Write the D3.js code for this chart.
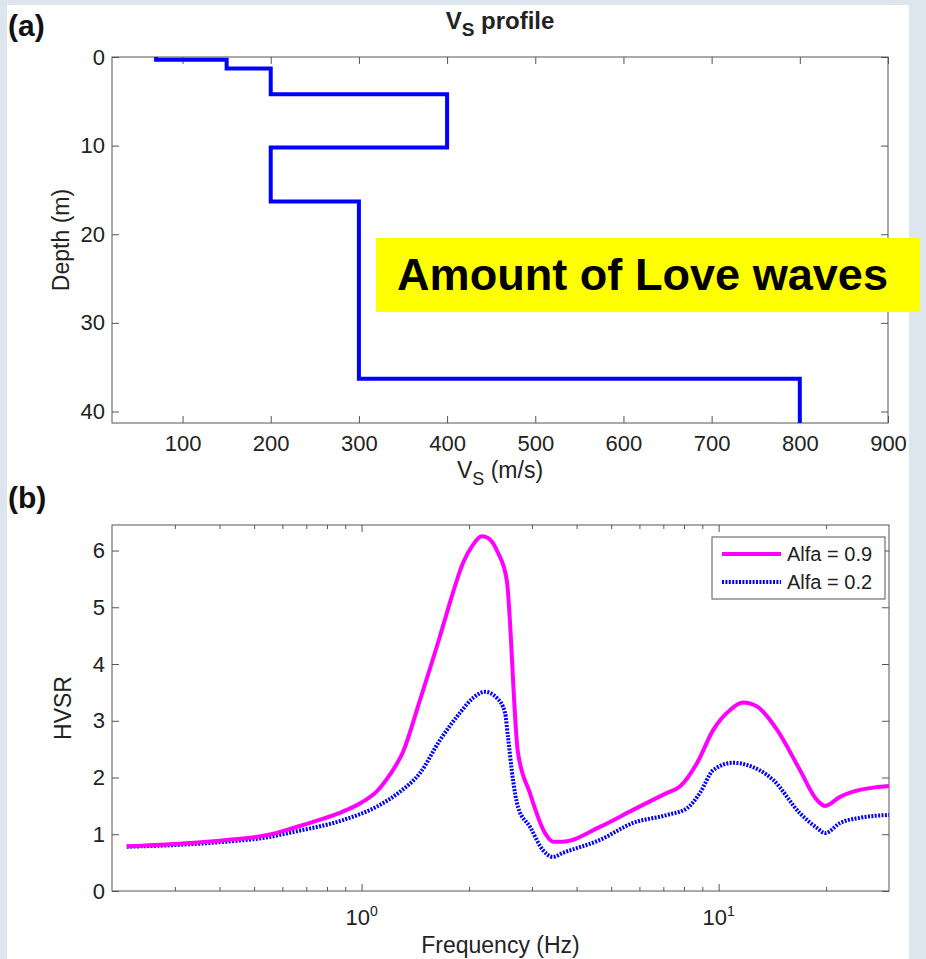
<!DOCTYPE html>
<html>
<head>
<meta charset="utf-8">
<script src="https://cdn.jsdelivr.net/npm/d3@7"></script>
<style>
  html, body { margin: 0; padding: 0; background: #dde5ef; }
  svg { display: block; font-family: "Liberation Sans", Arial, sans-serif; }
</style>
</head>
<body>
<svg id="fig" width="926" height="959"></svg>
<script>
// ---- Panel (a): shear-wave velocity profile, one entry per layer ----
const layerVs = [70, 150, 200, 400, 200, 300, 800];          // m/s
const layerTop = [0, 0.3, 1.3, 4.2, 10.2, 16.3, 36.3];        // m
const profileBottom = 41.3;                                   // m
const vsTicks = [100, 200, 300, 400, 500, 600, 700, 800, 900];
const depthTicks = [0, 10, 20, 30, 40];

// ---- Panel (b): HVSR curves ----
const freqHigh = [0.22, 0.3, 0.42, 0.55, 0.643, 0.75, 0.887, 1.0, 1.105, 1.2, 1.306, 1.458, 1.658, 1.803,
  1.923, 2.051, 2.17, 2.26, 2.41, 2.55, 2.74, 2.96, 3.265, 3.436, 3.66, 4.65, 5.76, 7.17, 7.79, 8.71,
  9.66, 10.77, 11.7, 12.81, 14.58, 16.9, 18.87, 19.87, 21.9, 23.8, 30];
const hvsrHigh = [0.79, 0.83, 0.90, 0.99, 1.11, 1.24, 1.40, 1.56, 1.76, 2.05, 2.45, 3.37, 4.49, 5.26,
  5.78, 6.10, 6.25, 6.22, 5.96, 5.48, 2.45, 1.73, 1.02, 0.87, 0.87, 1.13, 1.43, 1.73, 1.84, 2.26,
  2.84, 3.19, 3.32, 3.25, 2.84, 2.13, 1.60, 1.50, 1.66, 1.75, 1.85];
const freqLow = [0.22, 0.3, 0.42, 0.55, 0.643, 0.887, 1.105, 1.281, 1.458, 1.658, 1.886, 2.051, 2.217,
  2.395, 2.522, 2.57, 2.655, 2.742, 2.963, 3.22, 3.436, 3.66, 4.65, 5.76, 7.17, 8.16, 8.87, 9.66,
  10.97, 12.02, 14.2, 16.9, 18.87, 19.87, 21.9, 24.9, 30];
const hvsrLow = [0.78, 0.81, 0.87, 0.95, 1.04, 1.25, 1.49, 1.75, 2.08, 2.66, 3.14, 3.40, 3.51,
  3.40, 3.14, 2.72, 1.96, 1.48, 1.13, 0.72, 0.60, 0.67, 0.90, 1.20, 1.34, 1.46, 1.73, 2.13,
  2.26, 2.22, 1.96, 1.37, 1.11, 1.02, 1.20, 1.29, 1.34];
const seriesNames = ["Alfa = 0.9", "Alfa = 0.2"];
const hvsrTicks = [0, 1, 2, 3, 4, 5, 6];
const freqMajor = [1, 10];

const svg = d3.select("#fig");
const axisColor = "#555";
const textColor = "#222";

// white figure sheet
svg.append("rect").attr("x", 7).attr("y", 5).attr("width", 902).attr("height", 954).attr("fill", "#fff");

// ================= Panel (a) =================
const ax = { l: 112, r: 888, t: 57, b: 423 };
const xVs = d3.scaleLinear().domain([20, 900]).range([ax.l, ax.r]);
const yDep = d3.scaleLinear().domain([0, profileBottom]).range([ax.t, ax.b]);

const gA = svg.append("g");
gA.append("rect").attr("x", ax.l).attr("y", ax.t).attr("width", ax.r - ax.l).attr("height", ax.b - ax.t)
  .attr("fill", "#fff").attr("stroke", axisColor).attr("stroke-width", 1);

function styleAxis(g) {
  g.select(".domain").remove();
  g.selectAll(".tick line").attr("stroke", axisColor);
  g.selectAll(".tick text").attr("fill", textColor).attr("font-size", 22);
}

gA.append("g").attr("transform", `translate(0,${ax.b})`)
  .call(d3.axisBottom(xVs).tickValues(vsTicks).tickSizeInner(-7).tickSizeOuter(0).tickPadding(12))
  .call(styleAxis);
gA.append("g").attr("transform", `translate(0,${ax.t})`)
  .call(d3.axisTop(xVs).tickValues(vsTicks).tickSizeInner(-7).tickSizeOuter(0).tickFormat(""))
  .call(styleAxis);
gA.append("g").attr("transform", `translate(${ax.l},0)`)
  .call(d3.axisLeft(yDep).tickValues(depthTicks).tickSizeInner(-7).tickSizeOuter(0).tickPadding(7))
  .call(styleAxis);
gA.append("g").attr("transform", `translate(${ax.r},0)`)
  .call(d3.axisRight(yDep).tickValues(depthTicks).tickSizeInner(-7).tickSizeOuter(0).tickFormat(""))
  .call(styleAxis);

// staircase profile
const stairs = [];
layerVs.forEach((v, i) => {
  const top = layerTop[i];
  const bot = i + 1 < layerTop.length ? layerTop[i + 1] : profileBottom;
  stairs.push([v, top], [v, bot]);
});
gA.append("path").datum(stairs)
  .attr("d", d3.line().x(d => xVs(d[0])).y(d => yDep(d[1])))
  .attr("fill", "none").attr("stroke", "#0000ff").attr("stroke-width", 4).attr("stroke-linejoin", "miter");

// title and labels
const title = svg.append("text").attr("x", (ax.l + ax.r) / 2).attr("y", 29)
  .attr("text-anchor", "middle").attr("font-size", 24).attr("font-weight", "bold").attr("fill", textColor);
title.append("tspan").text("V");
title.append("tspan").attr("font-size", 19).attr("dy", 7).text("S");
title.append("tspan").attr("dy", -7).text(" profile");

const xlabA = svg.append("text").attr("x", (ax.l + ax.r) / 2).attr("y", 478)
  .attr("text-anchor", "middle").attr("font-size", 23).attr("fill", textColor);
xlabA.append("tspan").text("V");
xlabA.append("tspan").attr("font-size", 18).attr("dy", 7).text("S");
xlabA.append("tspan").attr("dy", -7).text(" (m/s)");

svg.append("text").attr("transform", `translate(69,${(ax.t + ax.b) / 2}) rotate(-90)`)
  .attr("text-anchor", "middle").attr("font-size", 23).attr("fill", textColor).text("Depth (m)");

svg.append("text").attr("x", 8).attr("y", 36).attr("font-size", 30).attr("font-weight", "bold")
  .attr("fill", "#111").text("(a)");

// highlighted annotation
svg.append("rect").attr("x", 376).attr("y", 238).attr("width", 544).attr("height", 74).attr("fill", "#ffff00");
svg.append("text").attr("x", 397).attr("y", 290).attr("font-size", 44).attr("font-weight", "bold")
  .attr("fill", "#000").attr("textLength", 491).attr("lengthAdjust", "spacingAndGlyphs").text("Amount of Love waves");

// ================= Panel (b) =================
const bx = { l: 112, r: 889, t: 525, b: 891 };
const xF = d3.scaleLog().domain([0.2, 30]).range([bx.l, bx.r]);
const yH = d3.scaleLinear().domain([0, 6.45]).range([bx.b, bx.t]);

const gB = svg.append("g");
gB.append("rect").attr("x", bx.l).attr("y", bx.t).attr("width", bx.r - bx.l).attr("height", bx.b - bx.t)
  .attr("fill", "#fff").attr("stroke", axisColor).attr("stroke-width", 1);

const minorF = xF.ticks().filter(v => v > 0.2 && v < 30 && !freqMajor.includes(v));

[[bx.b, -1], [bx.t, 1]].forEach(([y0, dir]) => {
  gB.append("g").attr("transform", `translate(0,${y0})`)
    .call(d3.axisBottom(xF).tickValues(minorF).tickSizeInner(4 * dir).tickSizeOuter(0).tickFormat(""))
    .call(styleAxis);
  gB.append("g").attr("transform", `translate(0,${y0})`)
    .call(d3.axisBottom(xF).tickValues(freqMajor).tickSizeInner(7 * dir).tickSizeOuter(0).tickFormat(""))
    .call(styleAxis);
});

gB.append("g").attr("transform", `translate(${bx.l},0)`)
  .call(d3.axisLeft(yH).tickValues(hvsrTicks).tickFormat(d3.format("d")).tickSizeInner(-7).tickSizeOuter(0).tickPadding(7))
  .call(styleAxis);
gB.append("g").attr("transform", `translate(${bx.r},0)`)
  .call(d3.axisRight(yH).tickValues(hvsrTicks).tickSizeInner(-7).tickSizeOuter(0).tickFormat(""))
  .call(styleAxis);

// power-of-ten tick labels
freqMajor.forEach(v => {
  const t = svg.append("text").attr("x", xF(v)).attr("y", 925).attr("text-anchor", "middle")
    .attr("font-size", 22).attr("fill", textColor);
  t.append("tspan").text("10");
  t.append("tspan").attr("font-size", 14).attr("dy", -9).text(Math.round(Math.log10(v)));
});

const line = d3.line().curve(d3.curveMonotoneX).x(d => xF(d[0])).y(d => yH(d[1]));
const highPts = freqHigh.map((f, i) => [f, hvsrHigh[i]]);
const lowPts = freqLow.map((f, i) => [f, hvsrLow[i]]);

gB.append("path").datum(lowPts).attr("d", line).attr("fill", "none")
  .attr("stroke", "#0000ff").attr("stroke-width", 4).attr("stroke-dasharray", "2,1.4");
gB.append("path").datum(highPts).attr("d", line).attr("fill", "none")
  .attr("stroke", "#ff00ff").attr("stroke-width", 4).attr("stroke-linejoin", "round");

svg.append("text").attr("transform", `translate(71,${(bx.t + bx.b) / 2}) rotate(-90)`)
  .attr("text-anchor", "middle").attr("font-size", 23).attr("fill", textColor).text("HVSR");
svg.append("text").attr("x", (bx.l + bx.r) / 2).attr("y", 953).attr("text-anchor", "middle")
  .attr("font-size", 23).attr("fill", textColor).text("Frequency (Hz)");
svg.append("text").attr("x", 8).attr("y", 508).attr("font-size", 30).attr("font-weight", "bold")
  .attr("fill", "#111").text("(b)");

// legend
const lg = svg.append("g");
lg.append("rect").attr("x", 712).attr("y", 537).attr("width", 173).attr("height", 62)
  .attr("fill", "#fff").attr("stroke", axisColor);
const legendStyles = [
  { color: "#ff00ff", dash: null },
  { color: "#0000ff", dash: "2,1.4" }
];
seriesNames.forEach((name, i) => {
  const y = 554 + i * 28;
  lg.append("line").attr("x1", 722).attr("x2", 781).attr("y1", y).attr("y2", y)
    .attr("stroke", legendStyles[i].color).attr("stroke-width", 4)
    .attr("stroke-dasharray", legendStyles[i].dash);
  lg.append("text").attr("x", 787).attr("y", y + 7).attr("font-size", 20).attr("fill", textColor).text(name);
});
</script>
</body>
</html>
